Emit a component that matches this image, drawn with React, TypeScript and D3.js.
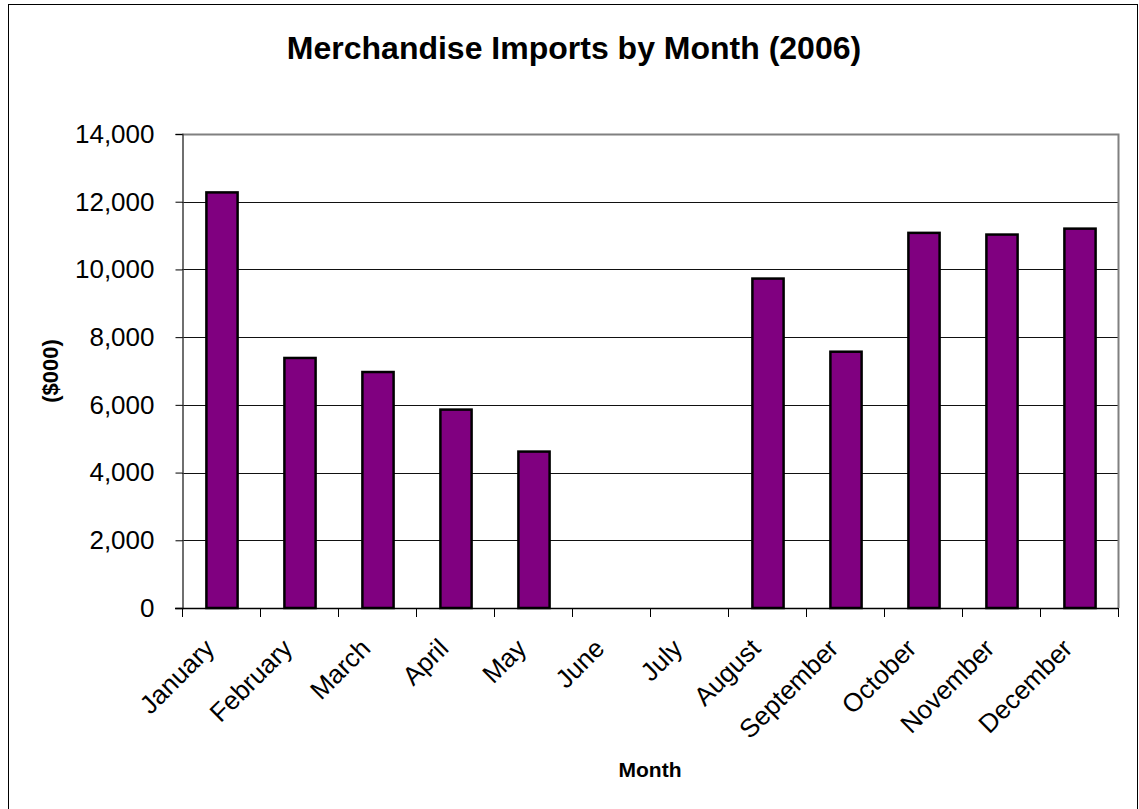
import React from 'react';
import * as d3 from 'd3';
import { useEffect, useRef } from 'react';

// values ($000)
const months = ['January', 'February', 'March', 'April', 'May', 'June', 'July', 'August', 'September', 'October', 'November', 'December'];
const imports = [12275, 7385, 6970, 5860, 4620, 0, 0, 9730, 7570, 11080, 11030, 11205];
const yTicks = [0, 2000, 4000, 6000, 8000, 10000, 12000, 14000];
const chartTitle = 'Merchandise Imports by Month (2006)';
const xTitle = 'Month';
const yTitle = '($000)';

const FONT = 'Arial, "Liberation Sans", Helvetica, sans-serif';

const App = () => {
    const chartRef = useRef<SVGSVGElement | null>(null);

    useEffect((): void => {
        const width = 1139;
        const height = 809;
        const plot = { left: 182, right: 1118, top: 134, bottom: 608 };

        const svg = d3.select(chartRef.current);
        svg.selectAll('*').remove();

        svg.append('rect')
            .attr('x', 8.5).attr('y', 4.5)
            .attr('width', 1129).attr('height', 830)
            .attr('fill', 'white')
            .attr('stroke', 'black')
            .attr('stroke-width', 1);

        const xScale = d3.scaleBand<string>()
            .domain(months)
            .range([plot.left, plot.right])
            .padding(0);

        const yScale = d3.scaleLinear()
            .domain([0, 14000])
            .range([plot.bottom, plot.top]);

        // gridlines
        svg.append('g')
            .selectAll('line')
            .data(yTicks.filter(t => t > 0 && t < 14000))
            .enter()
            .append('line')
            .attr('x1', plot.left).attr('x2', plot.right)
            .attr('y1', d => Math.round(yScale(d)) + 0.5)
            .attr('y2', d => Math.round(yScale(d)) + 0.5)
            .attr('stroke', '#111')
            .attr('stroke-width', 1);

        // plot frame (top + right in grey)
        svg.append('path')
            .attr('d', `M${plot.left},${plot.top + 0.5}H${plot.right + 0.5}V${plot.bottom}`)
            .attr('fill', 'none')
            .attr('stroke', '#808080')
            .attr('stroke-width', 2);

        const bw = xScale.bandwidth() * 0.4;
        svg.append('g')
            .selectAll('rect')
            .data(imports)
            .enter()
            .append('rect')
            .attr('x', (d, i) => (xScale(months[i]) ?? 0) + xScale.bandwidth() / 2 - bw / 2 + 1)
            .attr('y', d => yScale(d))
            .attr('width', bw)
            .attr('height', d => plot.bottom - yScale(d))
            .attr('fill', d => d > 0 ? '#800080' : 'none')
            .attr('stroke', d => d > 0 ? '#000' : 'none')
            .attr('stroke-width', 2.5);

        // y axis
        const yAxis = d3.axisLeft(yScale)
            .tickValues(yTicks)
            .tickFormat(d => d3.format(',')(d as number))
            .tickSize(7)
            .tickPadding(21);

        const yG = svg.append('g')
            .attr('transform', `translate(${plot.left + 0.5},0)`)
            .call(yAxis);
        yG.select('.domain').attr('stroke', '#404040').attr('stroke-width', 1.5);
        yG.selectAll('.tick line').attr('stroke', '#000');
        yG.selectAll('text')
            .style('font-family', FONT)
            .style('font-size', '26px')
            .attr('fill', '#000');

        // x axis: ticks at category boundaries
        const edges = d3.range(months.length + 1).map(i => plot.left + i * xScale.step());
        svg.append('line')
            .attr('x1', plot.left - 7).attr('x2', plot.right)
            .attr('y1', plot.bottom + 0.5).attr('y2', plot.bottom + 0.5)
            .attr('stroke', '#000').attr('stroke-width', 1.5);
        svg.append('g')
            .selectAll('line')
            .data(edges)
            .enter()
            .append('line')
            .attr('x1', d => Math.round(d) + 0.5).attr('x2', d => Math.round(d) + 0.5)
            .attr('y1', plot.bottom).attr('y2', plot.bottom + 9)
            .attr('stroke', '#000');

        svg.append('g')
            .selectAll('text')
            .data(months)
            .enter()
            .append('text')
            .attr('transform', d => `translate(${(xScale(d) ?? 0) + xScale.bandwidth() / 2 - 5},650) rotate(-45)`)
            .attr('text-anchor', 'end')
            .style('font-family', FONT)
            .style('font-size', '26px')
            .text(d => d);

        svg.append('text')
            .attr('x', 574)
            .attr('y', 59)
            .attr('text-anchor', 'middle')
            .style('font-family', FONT)
            .style('font-weight', 'bold')
            .style('font-size', '32px')
            .text(chartTitle);

        svg.append('text')
            .attr('x', (plot.left + plot.right) / 2)
            .attr('y', 777)
            .attr('text-anchor', 'middle')
            .style('font-family', FONT)
            .style('font-weight', 'bold')
            .style('font-size', '21px')
            .text(xTitle);

        svg.append('text')
            .attr('transform', `translate(58,${(plot.top + plot.bottom) / 2}) rotate(-90)`)
            .attr('text-anchor', 'middle')
            .style('font-family', FONT)
            .style('font-weight', 'bold')
            .style('font-size', '22px')
            .text(yTitle);

        svg.attr('width', width).attr('height', height);
    }, []);

    return (
        <svg ref={chartRef} width={1139} height={809}
            style={{ position: 'absolute', left: 0, top: 0, display: 'block' }}></svg>
    );
};

export default App;
